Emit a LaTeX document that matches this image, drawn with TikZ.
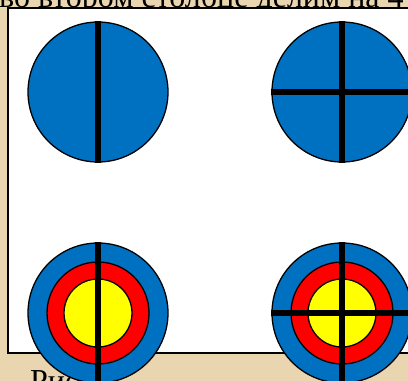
\documentclass[tikz,border=0pt]{standalone}
\usepackage{fontspec}
\setmainfont{Liberation Serif}
\definecolor{parch}{HTML}{E9D6B1}
\definecolor{tblue}{HTML}{0070C0}
\definecolor{tred}{HTML}{FF0000}
\definecolor{tyellow}{HTML}{FFFF00}
\begin{document}
\begin{tikzpicture}[x=1pt,y=-1pt,
  ring/.style={circle, draw=black, line width=1.3pt, inner sep=0pt},
  outer/.style={ring, fill=tblue, minimum size=140pt},
  middle/.style={ring, fill=tred, minimum size=102pt},
  inner/.style={ring, fill=tyellow, minimum size=68pt},
  bar/.style={line width=6.5pt, black},
  txt/.style={anchor=base west, inner sep=0pt, font=\fontsize{32}{36}\selectfont}]
\useasboundingbox (0,0) rectangle (408,381);
\fill[parch] (0,0) rectangle (408,381);
\node[txt] (title) at (-1,7) {во втором столбце делим на 4};
\node[txt] (cap) at (30,391) {Рис};
\draw[fill=white, line width=1.3pt] (8,8) rectangle (414,353);
% top left
\node[outer] (a) at (98,92) {};
\draw[bar] (a.north) -- (a.south);
% top right
\node[outer] (b) at (342,92) {};
\draw[bar] (b.north) -- (b.south);
\draw[bar] (b.west) -- (b.east);
% bottom left
\node[outer] (c) at (98,313) {};
\node[middle] (c2) at (c) {};
\node[inner] (c3) at (c) {};
\draw[bar] (c.north) -- (c.south);
% bottom right
\node[outer] (d) at (342,313) {};
\node[middle] (d2) at (d) {};
\node[inner] (d3) at (d) {};
\draw[bar] (d.north) -- (d.south);
\draw[bar] (d.west) -- (d.east);
\end{tikzpicture}
\end{document}
